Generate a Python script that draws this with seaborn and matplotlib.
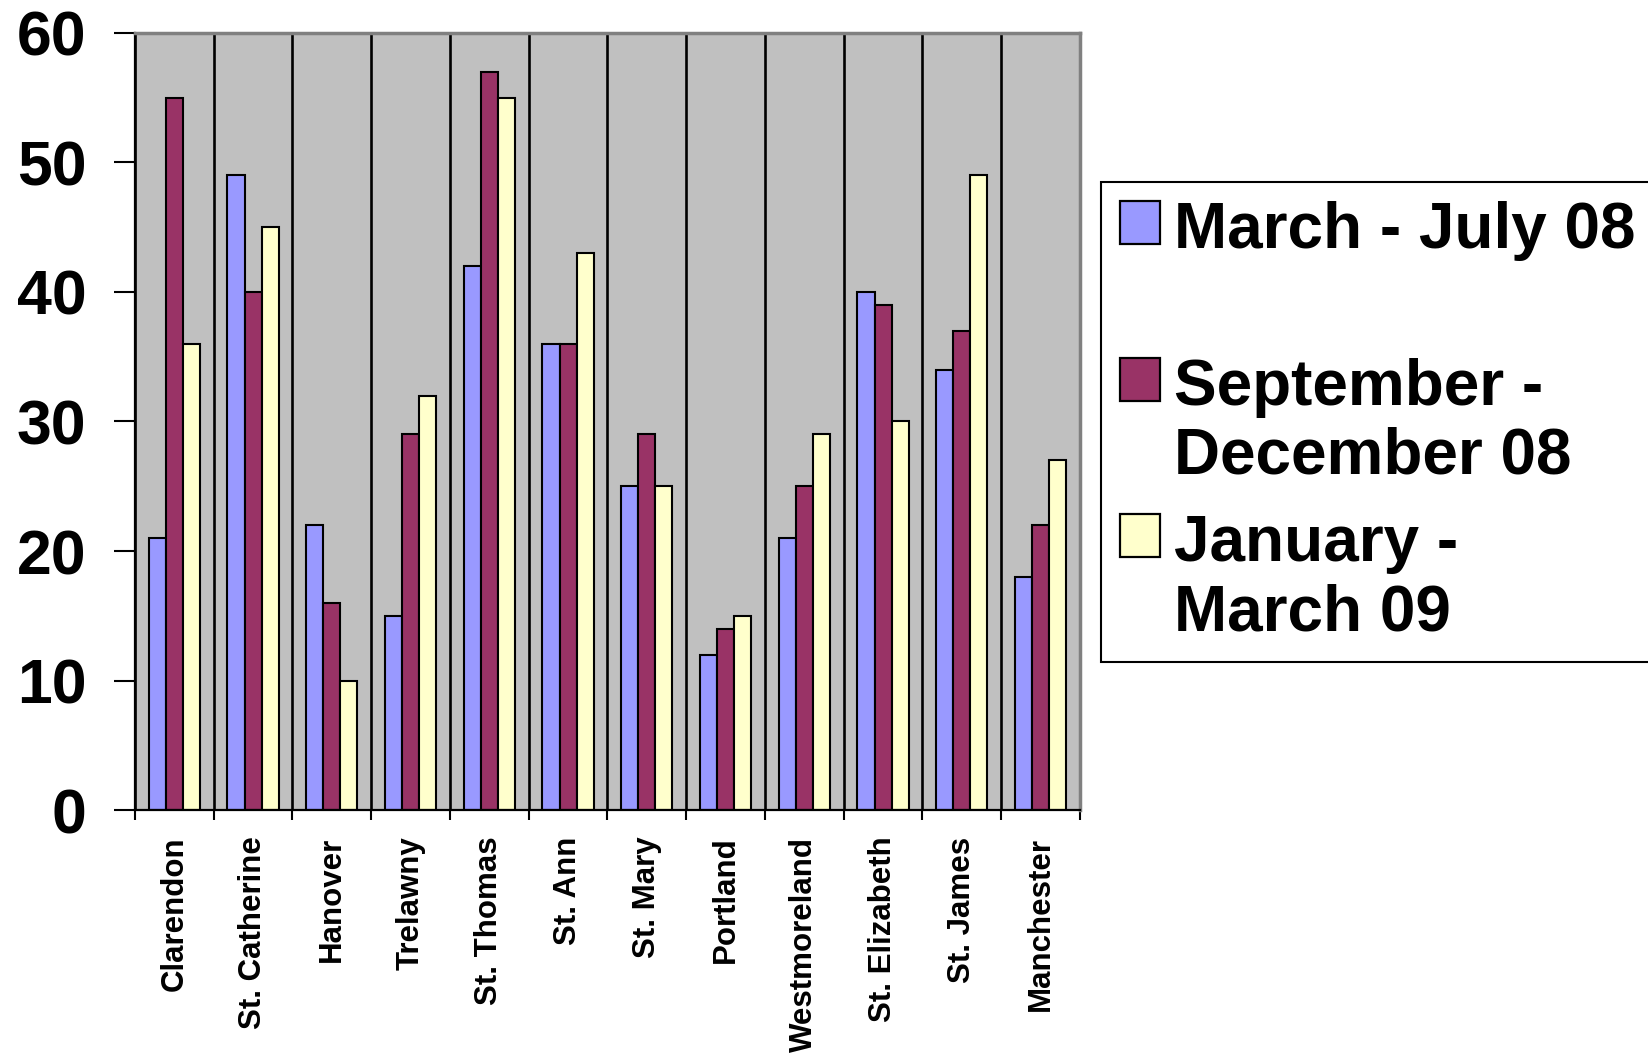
import matplotlib.pyplot as plt
import pandas as pd
import seaborn as sns
import numpy as np
from matplotlib.patches import Patch

# Data
parishes = ['Clarendon', 'St. Catherine', 'Hanover', 'Trelawny', 'St. Thomas', 'St. Ann',
            'St. Mary', 'Portland', 'Westmoreland', 'St. Elizabeth', 'St. James', 'Manchester']
periods = ['March - July 08\n', 'September -\nDecember 08', 'January -\nMarch 09']
mar_jul_08 = [21, 49, 22, 15, 42, 36, 25, 12, 21, 40, 34, 18]
sep_dec_08 = [55, 40, 16, 29, 57, 36, 29, 14, 25, 39, 37, 22]
jan_mar_09 = [36, 45, 10, 32, 55, 43, 25, 15, 29, 30, 49, 27]
colors = ['#9999ff', '#993366', '#ffffcc']

plt.rcParams['font.family'] = ['Liberation Sans', 'DejaVu Sans']

df = pd.DataFrame({
    'parish': parishes * 3,
    'period': np.repeat(periods, len(parishes)),
    'count': mar_jul_08 + sep_dec_08 + jan_mar_09,
})

fig = plt.figure(figsize=(16.48, 10.59), dpi=100)
ax = fig.add_axes([0.0819, 0.235, 0.5734, 0.734])
ax.set_facecolor('#c0c0c0')

sns.barplot(data=df, x='parish', y='count', hue='period', hue_order=periods,
            palette=colors, width=0.65, saturation=1, edgecolor='black',
            linewidth=1.5, errorbar=None, legend=False, ax=ax)
ax.set_xlabel('')
ax.set_ylabel('')

# category boundaries get ticks + black lines, names sit in between
n = len(parishes)
ax.set_xticks(np.arange(n + 1) - 0.5)
ax.set_xticklabels([])
ax.set_xticks(np.arange(n), labels=parishes, minor=True)
ax.set_xlim(-0.5, n - 0.5)
ax.tick_params(axis='x', which='major', direction='out', length=7, width=1.5)
ax.tick_params(axis='x', which='minor', length=0, pad=19, labelsize=22.5, labelrotation=90)
for lab in ax.get_xticklabels(minor=True):
    lab.set_fontweight('bold')

ax.set_ylim(0, 60)
ax.set_yticks(range(0, 61, 10))
ax.tick_params(axis='y', direction='out', length=15, width=1.5, pad=20, labelsize=45)
for lab in ax.get_yticklabels():
    lab.set_fontweight('bold')

ax.grid(axis='x', which='major', color='black', linewidth=1.9)
ax.grid(axis='y', visible=False)
ax.set_axisbelow(True)

for s in ['left', 'bottom']:
    ax.spines[s].set_color('black')
    ax.spines[s].set_linewidth(1.6)
for s in ['top', 'right']:
    ax.spines[s].set_color('#808080')
    ax.spines[s].set_linewidth(2.5)

handles = [Patch(facecolor=c, edgecolor='black', linewidth=1.6) for c in colors]
leg = fig.legend(handles, periods, loc='upper left', bbox_to_anchor=(0.668, 0.828),
                 prop={'weight': 'bold', 'size': 46}, frameon=True, fancybox=False,
                 edgecolor='black', framealpha=1, borderpad=0.3, handlelength=0.63,
                 handleheight=0.66, handletextpad=0.22, labelspacing=0.42, borderaxespad=0)
leg.get_frame().set_linewidth(1.5)
for t in leg.get_texts():
    t.set_linespacing(1.2)
# put the swatch next to the first line of each label
for col in leg._legend_handle_box.get_children():
    for row in col.get_children():
        row.align = 'top'

fig.savefig('out.png', dpi=100)
